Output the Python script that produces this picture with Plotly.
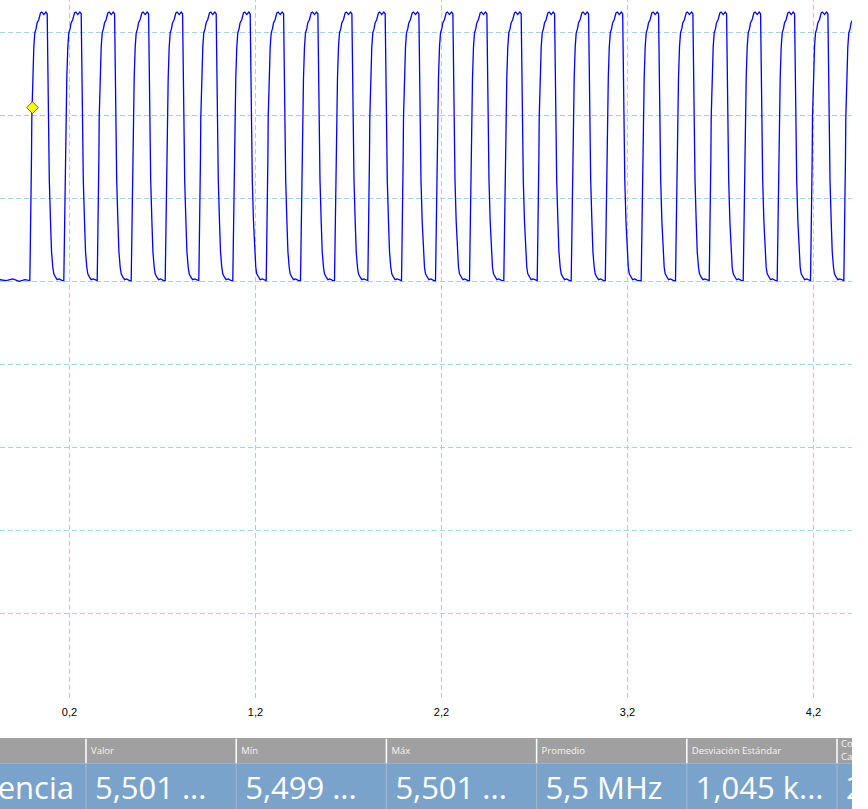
import plotly.graph_objects as go

# ---------------- data ----------------
# time axis in microseconds, vertical axis in screen divisions
x_ticks_us = [0.2, 1.2, 2.2, 3.2, 4.2]

# start of every rising edge (µs)
rise_times_us = [-0.0134, 0.1694, 0.3489, 0.5317, 0.7145, 0.8951, 1.0779, 1.2575,
                 1.4419, 1.6247, 1.8037, 1.9849, 2.1677, 2.3505, 2.5349, 2.7145,
                 2.8973, 3.0806, 3.2736, 3.4581, 3.6392, 3.8220, 4.0048, 4.1839,
                 4.3629]

# shape of one pulse: offset from the edge (ns) and level (div)
pulse_offset_ns = [0.0, 1.6, 3.8, 9.1, 10.8, 16.1, 21.5, 26.9, 33.9, 39.2, 48.4,
                   57.5, 64.5, 75.3, 86.0, 93.5, 95.2, 98.9, 102.1, 104.8, 111.3,
                   116.7, 123.6, 129.0, 138.2, 147.3, 158.0, 174.2]
pulse_level_div = [5.01, 5.24, 5.98, 6.50, 6.97, 7.45, 7.82, 7.99, 8.04, 8.11, 8.15,
                   8.23, 8.24, 8.21, 8.24, 8.22, 7.91, 7.00, 6.50, 6.22, 5.72,
                   5.36, 5.17, 5.09, 5.05, 5.02, 5.03, 5.01]

# flat part before the trigger
pre_time_us = [-0.1740, -0.1400, -0.1050, -0.0700, -0.0400, -0.0200]
pre_level_div = [5.02, 5.01, 5.03, 5.00, 5.02, 5.01]

trigger_time_us = 0.001
trigger_level_div = 7.09

# measurement table
table_headers = ["", "Valor", "Mín", "Máx", "Promedio", "Desviación Estándar", "Co"]
table_values = ["Frecuencia", "5,501 ...", "5,499 ...", "5,501 ...", "5,5 MHz", "1,045 k...", "2"]

# ---------------- build the trace ----------------
t = list(pre_time_us)
v = list(pre_level_div)
for r in rise_times_us:
    for dt, lv in zip(pulse_offset_ns, pulse_level_div):
        t.append(r + dt / 1000.0)
        v.append(lv)

fig = go.Figure()
fig.add_trace(go.Scatter(x=t, y=v, mode="lines",
                         line=dict(color="#0000ff", width=1.3),
                         hoverinfo="skip", showlegend=False))
fig.add_trace(go.Scatter(x=[trigger_time_us], y=[trigger_level_div], mode="markers",
                         marker=dict(symbol="diamond", size=9, color="#ffff00",
                                     line=dict(color="#6b6b20", width=1)),
                         showlegend=False, cliponaxis=False))

# ---------------- table (own subplot so text is clipped) ----------------
W_PLOT = 852
col_sep = [86 + 150.2 * k for k in range(6)]
col_left = [0] + col_sep
HEAD_H = 25.3
TAB_H = 71
grid_col = "#9fd5e6"

shapes = [
    dict(type="rect", xref="x2", yref="y2", x0=0, x1=W_PLOT, y0=0, y1=HEAD_H,
         fillcolor="#a0a0a0", line=dict(width=0), layer="below"),
    dict(type="rect", xref="x2", yref="y2", x0=0, x1=W_PLOT, y0=HEAD_H, y1=TAB_H,
         fillcolor="#7aa3cc", line=dict(width=0), layer="below"),
]
for s in col_sep:
    shapes.append(dict(type="line", xref="x2", yref="y2", x0=s, x1=s, y0=0.8, y1=HEAD_H,
                       line=dict(color="#ffffff", width=1.5), layer="below"))
    shapes.append(dict(type="line", xref="x2", yref="y2", x0=s, x1=s, y0=HEAD_H, y1=TAB_H,
                       line=dict(color="#a7b3c2", width=1.2), layer="below"))
# vertical grid lines at the tick positions
for xv in x_ticks_us:
    shapes.append(dict(type="line", xref="x", yref="y domain", x0=xv, x1=xv, y0=0, y1=1,
                       line=dict(color=grid_col, width=1, dash="5px,3px"), layer="below"))

# header labels
hx, hy, ht = [], [], []
for i in range(1, 6):
    hx.append(col_left[i] + 5); hy.append(14); ht.append(table_headers[i])
fig.add_trace(go.Scatter(x=hx, y=hy, text=ht, mode="text", textposition="middle right",
                         textfont=dict(family="Open Sans", size=9.5, color="#f4f4f4"),
                         xaxis="x2", yaxis="y2", showlegend=False, hoverinfo="skip"))
fig.add_trace(go.Scatter(x=[col_left[6] + 4, col_left[6] + 4], y=[7, 19.5], text=["Co", "Ca"],
                         mode="text", textposition="middle right",
                         textfont=dict(family="Open Sans", size=9.5, color="#f4f4f4"),
                         xaxis="x2", yaxis="y2", showlegend=False, hoverinfo="skip"))
# values
fig.add_trace(go.Scatter(x=[74], y=[53], text=[table_values[0]], mode="text",
                         textposition="middle left",
                         textfont=dict(family="Open Sans", size=31, color="#ffffff"),
                         xaxis="x2", yaxis="y2", showlegend=False, hoverinfo="skip"))
fig.add_trace(go.Scatter(x=[c + 9 for c in col_left[1:]], y=[53] * 6, text=table_values[1:],
                         mode="text", textposition="middle right",
                         textfont=dict(family="Open Sans", size=31, color="#ffffff"),
                         xaxis="x2", yaxis="y2", showlegend=False, hoverinfo="skip"))

H = 809
x_start = 0.2 - 69.5 / 186.0
x_end = x_start + W_PLOT / 186.0
fig.update_layout(
    width=868, height=H,
    margin=dict(l=0, r=16, t=0, b=0, pad=0),
    paper_bgcolor="#ffffff", plot_bgcolor="#ffffff",
    separators=",.",
    showlegend=False,
    shapes=shapes,
    xaxis=dict(domain=[0, 1], range=[x_start, x_end], tickvals=x_ticks_us,
               tickformat=".1f", showgrid=False, zeroline=False, showline=False, ticks="",
               ticklabelstandoff=6,
               tickfont=dict(family="Liberation Sans", size=11, color="#000000"),
               anchor="y"),
    yaxis=dict(domain=[(H - 698) / H, 1], range=[-0.012, 8.385], dtick=1, tick0=0,
               showgrid=True, gridcolor=grid_col, gridwidth=1, griddash="5px,3px",
               zeroline=False, showline=False, showticklabels=False, ticks="",
               anchor="x"),
    xaxis2=dict(domain=[0, 1], range=[0, W_PLOT], visible=False, anchor="y2"),
    yaxis2=dict(domain=[0, TAB_H / H], range=[TAB_H, 0], visible=False, anchor="x2"),
)

fig.write_html("out.html", config={"displayModeBar": False},
               post_script="document.body.style.margin='0';document.body.style.overflow='hidden';")
